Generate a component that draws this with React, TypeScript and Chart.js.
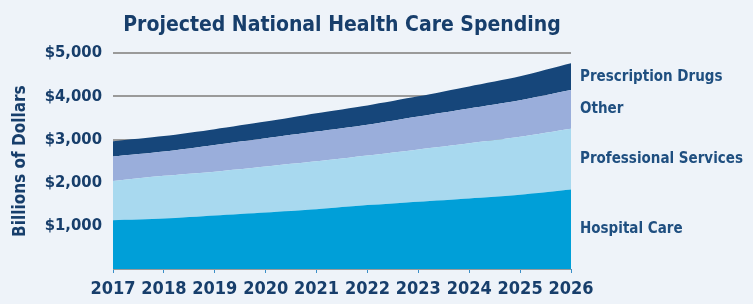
import React, { useEffect, useRef } from "react";
import { Chart, registerables } from "chart.js";

Chart.register(...registerables);

const years = ["2017", "2018", "2019", "2020", "2021", "2022", "2023", "2024", "2025", "2026"];
const hospitalCare = [1130, 1170, 1240, 1310, 1385, 1480, 1560, 1635, 1720, 1840];
const professionalServices = [910, 990, 1015, 1065, 1110, 1150, 1210, 1280, 1345, 1410];
const other = [565, 560, 620, 655, 690, 715, 765, 805, 845, 895];
const prescriptionDrugs = [355, 360, 365, 385, 425, 445, 465, 510, 555, 620];
const seriesNames = ["Hospital Care", "Professional Services", "Other", "Prescription Drugs"];
const yTicks = [1000, 2000, 3000, 4000, 5000];

const FONT = '"Liberation Sans Narrow", "DejaVu Sans Condensed", "Roboto Condensed", sans-serif';
const NAVY = "#173e6b";

const rightLabels = {
  id: "rightLabels",
  afterDatasetsDraw(chart: any) {
    const ctx = chart.ctx;
    const yScale = chart.scales.y;
    let prevY = yScale.getPixelForValue(0);
    ctx.save();
    ctx.font = `bold 15px ${FONT}`;
    ctx.fillStyle = "#1f4f80";
    ctx.textBaseline = "middle";
    ctx.textAlign = "left";
    chart.data.datasets.forEach((ds: any, i: number) => {
      const meta = chart.getDatasetMeta(i);
      const pt = meta.data[meta.data.length - 1];
      const y = (pt.y + prevY) / 2;
      ctx.fillText(ds.label, chart.chartArea.right + 9, y);
      prevY = pt.y;
    });
    ctx.restore();
  },
};

export default function App() {
  const ref = useRef<HTMLCanvasElement | null>(null);
  useEffect(() => {
    document.body.style.margin = "0";
    document.body.style.background = "#eef3f9";
    const colors = ["#009fd8", "#a8d9ef", "#9aaedb", "#16467a"];
    const data = [hospitalCare, professionalServices, other, prescriptionDrugs];
    const chart = new Chart(ref.current as HTMLCanvasElement, {
      type: "line",
      data: {
        labels: years,
        datasets: data.map((d, i) => ({
          label: seriesNames[i],
          data: d,
          backgroundColor: colors[i],
          borderColor: colors[i],
          borderWidth: 0,
          pointRadius: 0,
          fill: i === 0 ? "origin" : "-1",
          tension: 0.25,
        })),
      },
      options: {
        responsive: false,
        animation: false,
        layout: { padding: { left: 0, right: 182, top: 0, bottom: 0 } },
        plugins: {
          legend: { display: false },
          tooltip: { enabled: false },
          title: {
            display: true,
            text: "Projected National Health Care Spending",
            fullSize: false,
            color: NAVY,
            font: { family: FONT, size: 21, weight: "bold", lineHeight: 1.2 },
            padding: { top: 13, bottom: 15 },
          },
        },
        scales: {
          x: {
            stacked: true,
            offset: false,
            grid: { display: true, drawOnChartArea: false, drawTicks: true, tickLength: 4, color: "#3a8fc8" },
            border: { display: false },
            ticks: {
              color: NAVY,
              font: { family: FONT, size: 18, weight: "bold" },
              padding: 6,
              maxRotation: 0,
              autoSkip: false,
            },
            afterFit: (s: any) => { s.height = 35; },
          },
          y: {
            stacked: true,
            min: 0,
            max: 5000,
            afterBuildTicks: (s: any) => { s.ticks = [0, ...yTicks].map((v) => ({ value: v })); },
            grid: { color: "#9a9a9a", lineWidth: 2, drawTicks: false },
            border: { display: false },
            ticks: {
              color: NAVY,
              padding: 11,
              font: { family: FONT, size: 16.5, weight: "bold" },
              callback: (v: any) => (v === 0 ? "" : "$" + Number(v).toLocaleString("en-US")),
            },
            title: {
              display: true,
              text: "Billions of Dollars",
              color: NAVY,
              font: { family: FONT, size: 17, weight: "bold" },
              padding: { top: 10, bottom: 0 },
            },
            afterFit: (s: any) => { s.width = 113; },
          },
        },
      },
      plugins: [rightLabels],
    });
    return () => chart.destroy();
  }, []);
  return (
    <div style={{ width: 753, height: 304, background: "#eef3f9" }}>
      <canvas ref={ref} width={753} height={304} />
    </div>
  );
}
